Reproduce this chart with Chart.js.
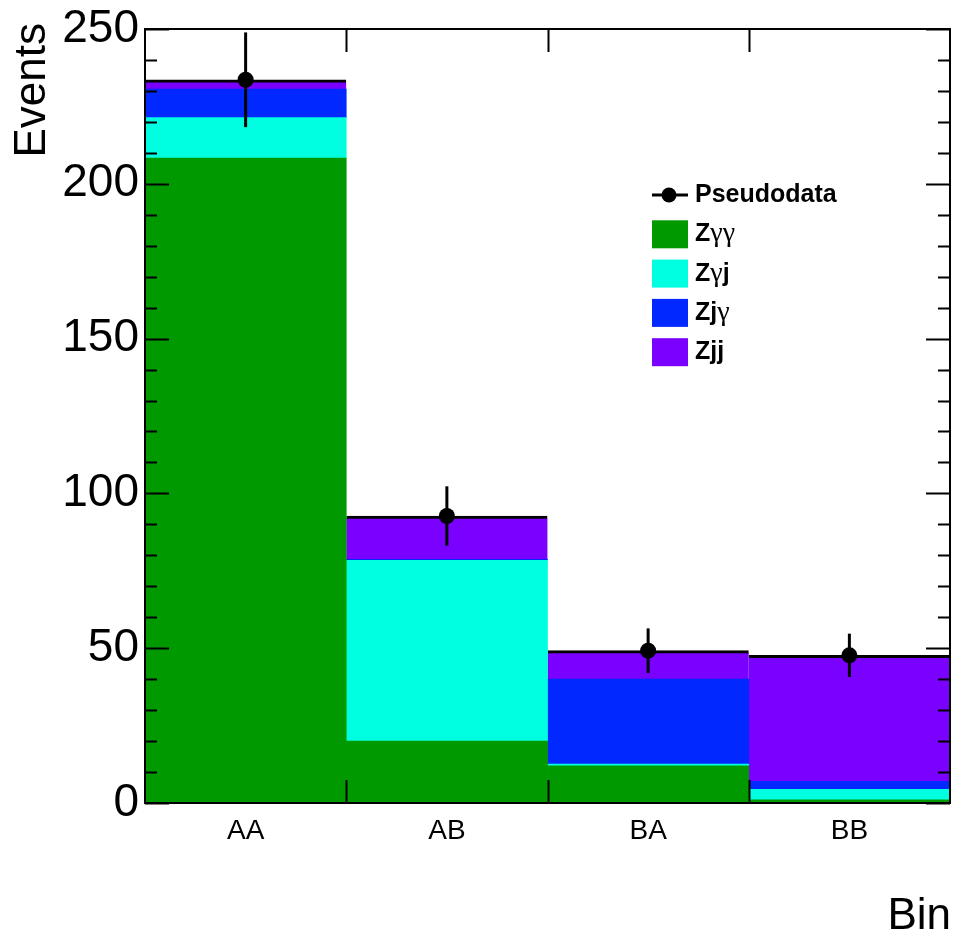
<!DOCTYPE html>
<html>
<head>
<meta charset="utf-8">
<script src="https://cdn.jsdelivr.net/npm/chart.js@4"></script>
<style>
  body { margin: 0; background: #fff; }
  canvas { display: block; }
</style>
</head>
<body>
<canvas id="stack-chart" width="955" height="933"></canvas>
<script>
// bins and stacked contributions (events)
var bins = ["AA", "AB", "BA", "BB"];
var zgg = [208.3, 20.0, 12.0, 1.0];
var zgj = [13.1, 58.4, 0.6, 3.4];
var zjg = [9.2, 0.3, 27.4, 2.6];
var zjj = [3.0, 14.0, 9.2, 40.7];
var pseudo = [233.6, 92.7, 49.2, 47.7];
var pseudoErr = [15.3, 9.6, 7.2, 7.0];
var legendNames = ["Pseudodata", "Zγγ", "Zγj", "Zjγ", "Zjj"];

var SANS = "'Liberation Sans', Arial, sans-serif";
var colors = {zgg: "#009900", zgj: "#00ffe0", zjg: "#0028ff", zjj: "#7a00ff"};

// error bars on the pseudodata points
var errorBars = {
    id: "errorBars",
    afterDatasetsDraw: function (chart) {
        var ctx = chart.ctx;
        var y = chart.scales.y;
        var meta = chart.getDatasetMeta(4);
        ctx.save();
        ctx.strokeStyle = "#000";
        ctx.lineWidth = 3;
        meta.data.forEach(function (pt, i) {
            ctx.beginPath();
            ctx.moveTo(pt.x, y.getPixelForValue(pseudo[i] - pseudoErr[i]));
            ctx.lineTo(pt.x, y.getPixelForValue(pseudo[i] + pseudoErr[i]));
            ctx.stroke();
        });
        ctx.restore();
    }
};

// frame, inward ticks, titles and legend, ROOT style
var decorations = {
    id: "decorations",
    afterDraw: function (chart) {
        var ctx = chart.ctx;
        var a = chart.chartArea;
        var y = chart.scales.y;
        var x = chart.scales.x;
        ctx.save();
        ctx.strokeStyle = "#000";
        ctx.lineWidth = 2;
        ctx.strokeRect(a.left, a.top, a.right - a.left, a.bottom - a.top);
        // y ticks, major every 50 and minor every 10
        ctx.beginPath();
        for (var v = y.min; v <= y.max; v += 10) {
            var py = Math.round(y.getPixelForValue(v)) + 0.5;
            var len = (v % 50 === 0) ? 24 : 12;
            ctx.moveTo(a.left, py); ctx.lineTo(a.left + len, py);
            ctx.moveTo(a.right, py); ctx.lineTo(a.right - len, py);
        }
        // x ticks at bin edges
        for (var i = 0; i < bins.length - 1; i++) {
            var px = Math.round((x.getPixelForValue(i) + x.getPixelForValue(i + 1)) / 2) + 0.5;
            ctx.moveTo(px, a.bottom); ctx.lineTo(px, a.bottom - 23);
            ctx.moveTo(px, a.top); ctx.lineTo(px, a.top + 23);
        }
        ctx.stroke();

        // axis titles
        ctx.fillStyle = "#000";
        ctx.font = "44px " + SANS;
        ctx.textAlign = "right";
        ctx.textBaseline = "alphabetic";
        ctx.fillText("Bin", 951, 929);
        ctx.save();
        ctx.translate(45, 23);
        ctx.rotate(-Math.PI / 2);
        ctx.fillText("Events", 0, 0);
        ctx.restore();

        // legend
        var fills = [null, colors.zgg, colors.zgj, colors.zjg, colors.zjj];
        ctx.textAlign = "left";
        legendNames.forEach(function (name, k) {
            var cy = 195 + k * 39.3;
            if (k === 0) {
                ctx.lineWidth = 3;
                ctx.beginPath();
                ctx.moveTo(652, cy); ctx.lineTo(688, cy);
                ctx.stroke();
                ctx.beginPath();
                ctx.arc(669, cy, 7.5, 0, Math.PI * 2);
                ctx.fill();
            } else {
                ctx.fillStyle = fills[k];
                ctx.fillRect(652, cy - 14, 36, 28);
                ctx.fillStyle = "#000";
            }
            var tx = 695;
            name.split("").forEach(function (ch) {
                ctx.font = (ch === "γ") ? "28px 'Liberation Serif', serif" : "bold 25px " + SANS;
                ctx.fillText(ch, tx, cy + 7);
                tx += ctx.measureText(ch).width;
            });
        });
        ctx.restore();
    }
};

var barStyle = function (label, data, color) {
    return {
        type: "bar", label: label, data: data, backgroundColor: color,
        borderWidth: 0, barPercentage: 1, categoryPercentage: 1, stack: "mc", order: 1
    };
};

var zjjBars = barStyle("Zjj", zjj, colors.zjj);
zjjBars.borderColor = "#000";
zjjBars.borderWidth = {top: 3, right: 0, bottom: 0, left: 0};
zjjBars.borderSkipped = false;

new Chart(document.getElementById("stack-chart"), {
    type: "bar",
    data: {
        labels: bins,
        datasets: [
            barStyle("Zγγ", zgg, colors.zgg),
            barStyle("Zγj", zgj, colors.zgj),
            barStyle("Zjγ", zjg, colors.zjg),
            zjjBars,
            {
                type: "line", label: "Pseudodata", data: pseudo, showLine: false,
                pointRadius: 8, pointBackgroundColor: "#000", pointBorderWidth: 0,
                stack: "data", order: 0
            }
        ]
    },
    options: {
        responsive: false,
        animation: false,
        layout: {autoPadding: false, padding: {top: 29, right: 5, left: 0, bottom: 0}},
        plugins: {legend: {display: false}, tooltip: {enabled: false}},
        scales: {
            x: {
                stacked: true,
                grid: {display: false, drawTicks: false, tickLength: 0},
                border: {display: false},
                ticks: {color: "#000", font: {family: SANS, size: 28}, padding: 11},
                afterFit: function (s) { s.height = 130; s.paddingLeft = 0; s.paddingRight = 0; }
            },
            y: {
                stacked: true, min: 0, max: 250,
                grid: {display: false, drawTicks: false, tickLength: 0},
                border: {display: false},
                ticks: {stepSize: 50, color: "#000", font: {family: SANS, size: 46}, padding: 6},
                afterFit: function (s) { s.width = 145; s.paddingTop = 0; s.paddingBottom = 0; }
            }
        }
    },
    plugins: [errorBars, decorations]
});
</script>
</body>
</html>
